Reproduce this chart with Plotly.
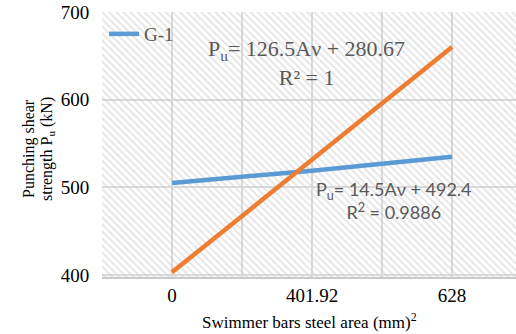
import plotly.graph_objects as go

# ---- data ----
categories = ["0", "401.92", "628"]
g1_values = [505, 519, 535]          # blue series (G-1)
orange_values = [403, 532, 660]      # orange series
y_ticks = [400, 500, 600, 700]

x_idx = list(range(len(categories)))
x_range = [-0.5, 2.457]
y_range = [397.7, 700]

fig = go.Figure()

# hatched plot-area background
fig.add_trace(go.Scatter(
    x=[x_range[0], x_range[1], x_range[1], x_range[0], x_range[0]],
    y=[y_range[0], y_range[0], y_range[1], y_range[1], y_range[0]],
    mode="none", fill="toself", fillcolor="rgba(0,0,0,0)",
    fillpattern=dict(shape="\\", fgcolor="#cdcdcd", bgcolor="rgba(0,0,0,0)",
                     size=5, solidity=0.4),
    showlegend=False, hoverinfo="skip"))

fig.add_trace(go.Scatter(
    x=x_idx, y=g1_values, mode="lines", name="G-1",
    line=dict(color="#5B9BD5", width=4.5)))
fig.add_trace(go.Scatter(
    x=x_idx, y=orange_values, mode="lines", name="series2", showlegend=False,
    line=dict(color="#ED7D31", width=4.5)))

fig.update_layout(
    width=516, height=334,
    margin=dict(l=102, r=0, t=12, b=57),
    paper_bgcolor="white", plot_bgcolor="white",
    font=dict(family="Liberation Serif", color="black", size=19),
    legend=dict(x=0.005, y=0.917, xanchor="left", yanchor="middle",
                bgcolor="rgba(0,0,0,0)", borderwidth=0,
                font=dict(family="Liberation Serif", size=19, color="#595959")),
    xaxis=dict(range=x_range, tickvals=x_idx, ticktext=categories,
               showgrid=True, gridcolor="#dadada", gridwidth=1.5,
               minor=dict(tickvals=[-0.5, 0.5, 1.5, 2.5], showgrid=True,
                          gridcolor="#dadada", gridwidth=1.5, ticks=""),
               showline=True, linecolor="#c8c8c8", linewidth=1.5,
               ticks="", zeroline=False, fixedrange=True,
               tickfont=dict(size=19)),
    yaxis=dict(range=y_range, tickvals=y_ticks,
               showgrid=True, gridcolor="#dadada", gridwidth=1.5,
               showline=False, ticks="outside", ticklen=8, tickcolor="rgba(0,0,0,0)",
               zeroline=False, tickfont=dict(size=19), ticklabeloverflow="allow"),
)

# window pixel -> paper coordinates (plot area: x 102..516, y 12..277)
def px_x(p):
    return (p - 102) / 414

def px_y(p):
    return (277 - p) / 265

def ann(x, y, text, font, angle=0):
    fig.add_annotation(x=px_x(x), y=px_y(y), xref="paper", yref="paper",
                       xanchor="center", yanchor="middle", text=text,
                       textangle=angle, showarrow=False, align="center", font=font)

ann(306, 63, "P<sub>u</sub>= 126.5Aν + 280.67<br>R² = 1",
    dict(family="Liberation Serif", size=22, color="#595959"))
ann(394, 200, "P<sub>u</sub>= 14.5Aν + 492.4<br>R<sup>2</sup> = 0.9886",
    dict(family="Lato", size=18, color="#595959"))

# axis titles
ann(29, 149, "Punching shear", dict(family="Liberation Serif", size=16, color="black"), -90)
ann(47, 149, "strength P<sub>u</sub> (kN)", dict(family="Liberation Serif", size=16, color="black"), -90)
ann(309, 321, "Swimmer bars steel area (mm)<sup>2</sup>",
    dict(family="Liberation Serif", size=17, color="black"))

fig.write_html("out.html", config={"displayModeBar": False},
               post_script="document.body.style.margin='0';")
